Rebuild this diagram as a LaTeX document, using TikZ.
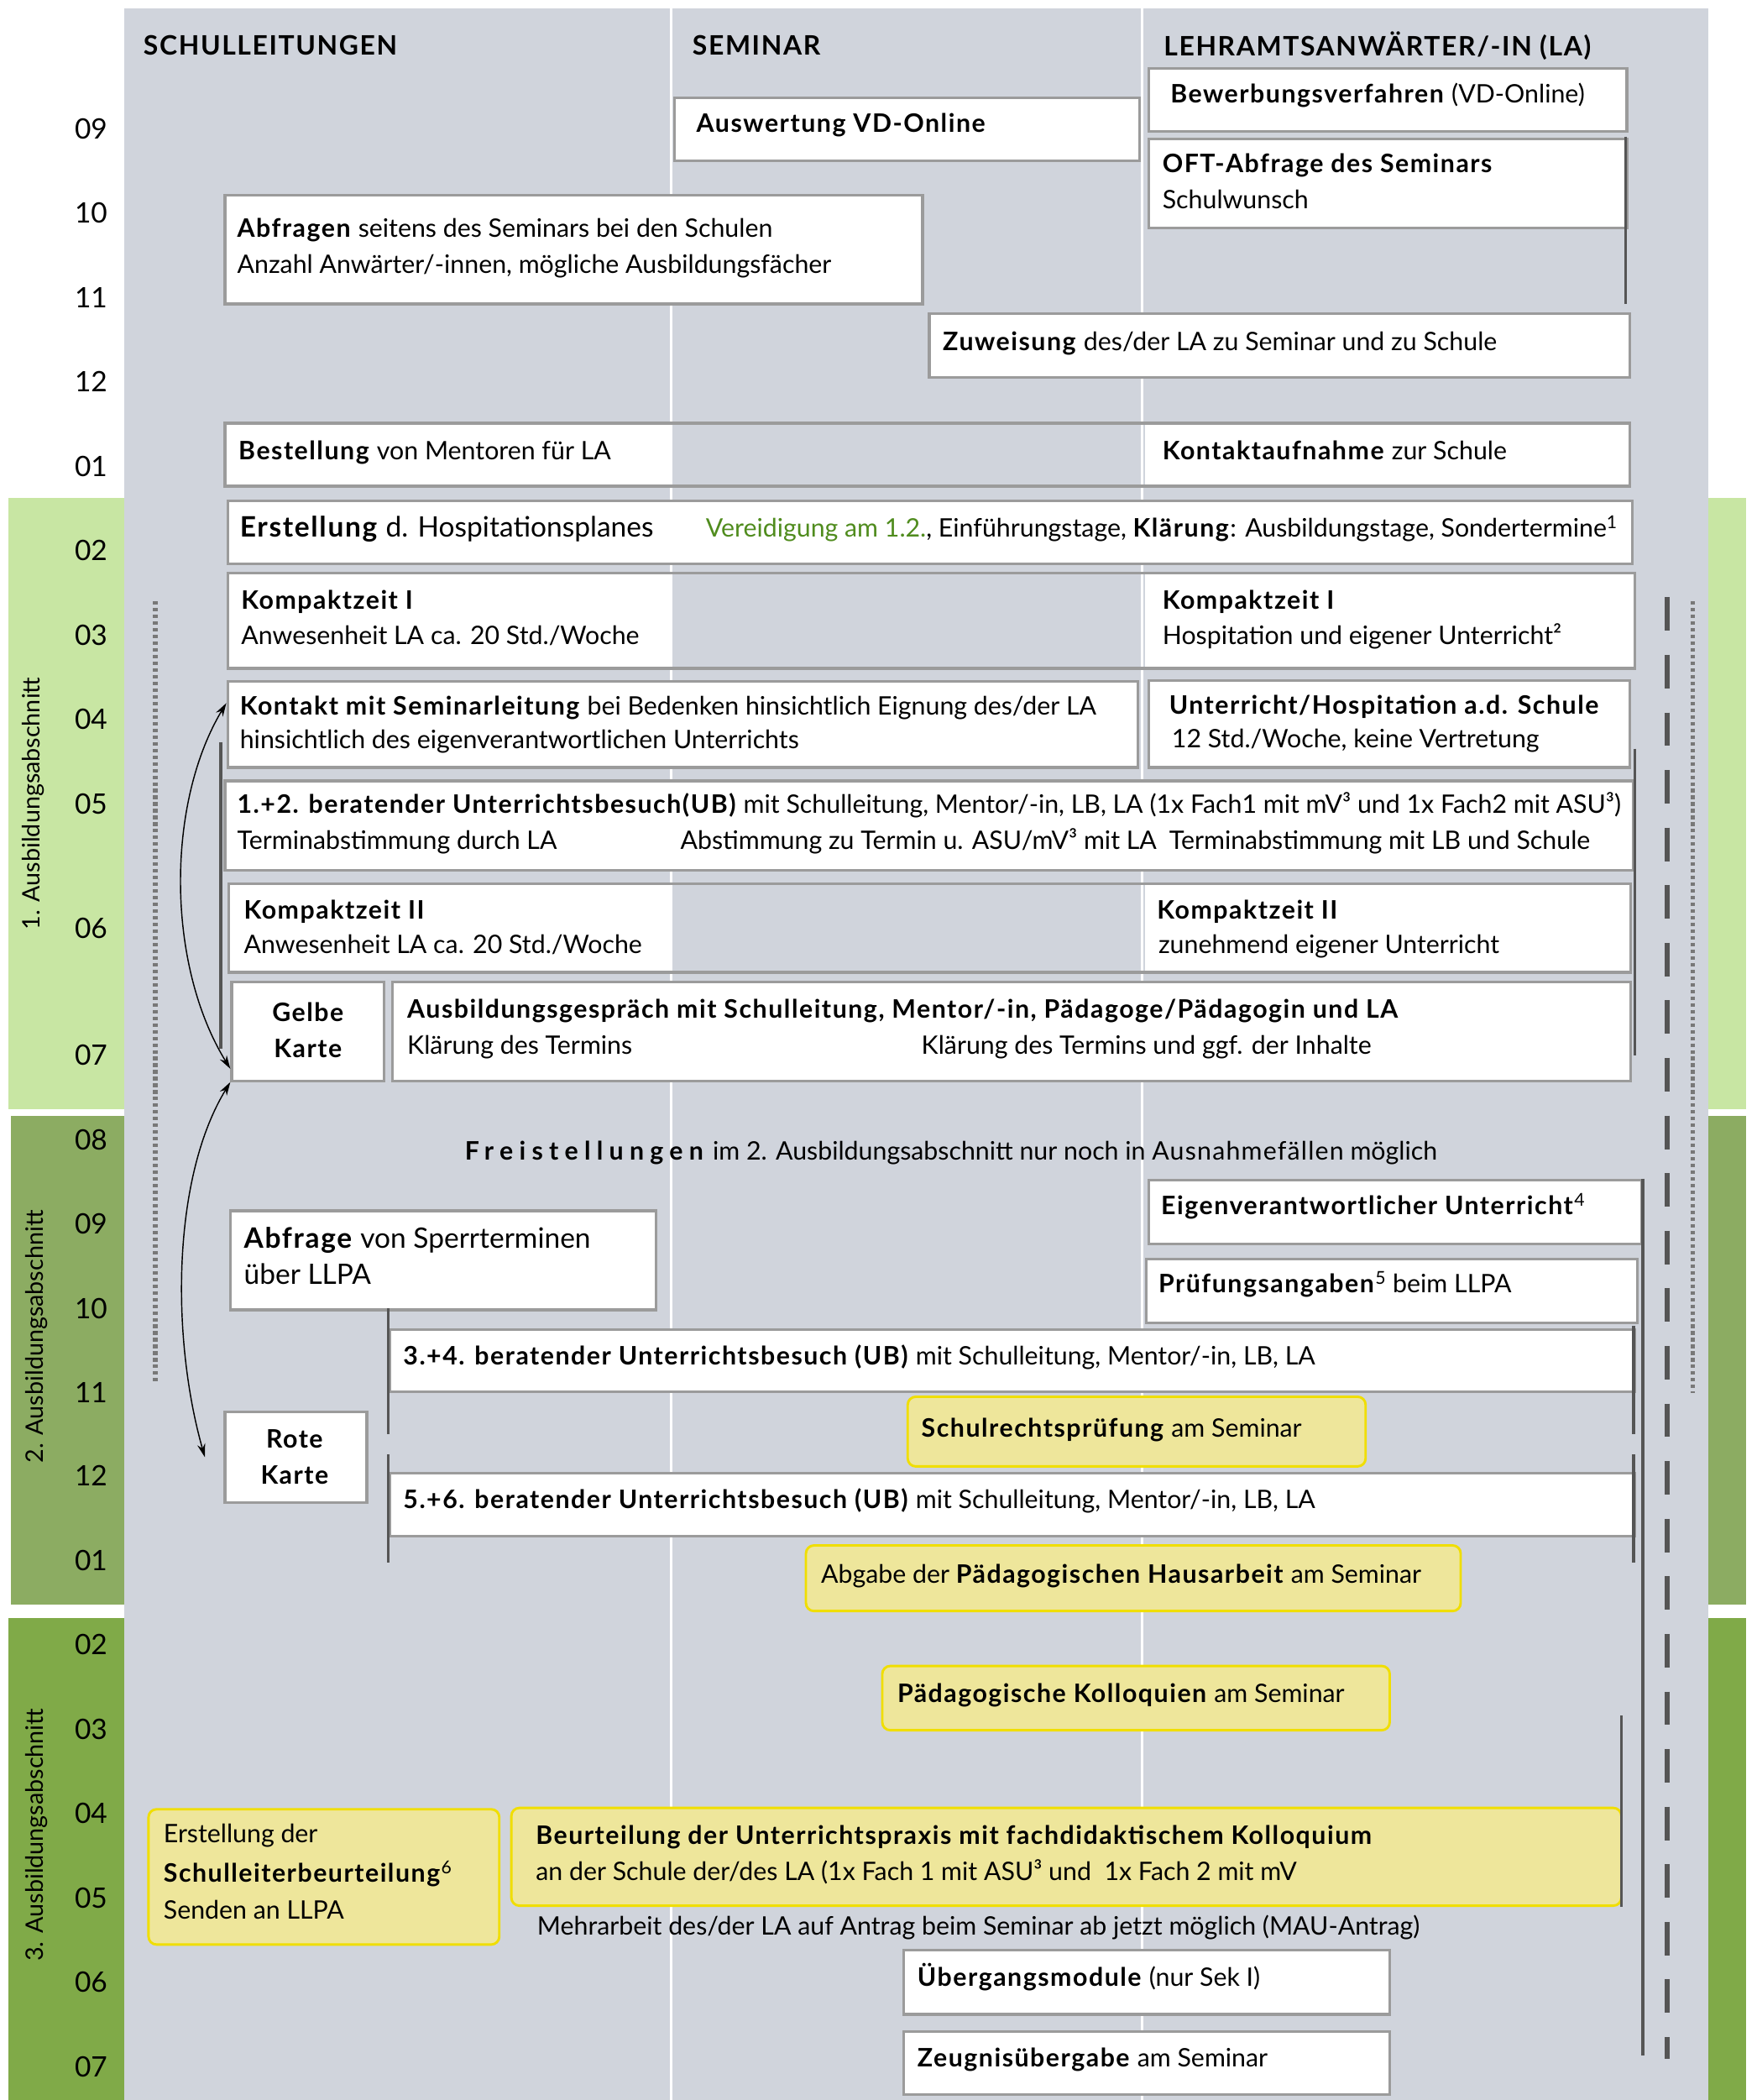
\documentclass[tikz,border=0pt]{standalone}
\usepackage{fontspec}
\setmainfont{Lato}[BoldFeatures={LetterSpace=5}]
\newfontfamily\widefont{Lato}
\newfontfamily\spacedfont{Lato}[LetterSpace=24]
\newfontfamily\lightspaced{Lato}[LetterSpace=4]
\usetikzlibrary{arrows.meta}

\definecolor{panel}{RGB}{208,212,220}
\definecolor{bordergray}{RGB}{155,155,155}
\definecolor{bandA}{RGB}{200,230,163}
\definecolor{bandB}{RGB}{140,172,98}
\definecolor{bandC}{RGB}{128,170,72}
\definecolor{yfill}{RGB}{238,230,155}
\definecolor{yborder}{RGB}{240,222,0}
\definecolor{darkline}{RGB}{85,85,85}
\definecolor{dotgray}{RGB}{120,120,120}
\definecolor{vgreen}{RGB}{80,140,30}

\newcommand\mkbox[6]{\node[#6, minimum width={#4-#2}, minimum height={#5-#3}] (#1) at (#2,#3) {};}

\tikzset{
  wbox/.style={draw=bordergray, line width=2pt, fill=white, inner sep=0pt, anchor=north west},
  framebox/.style={draw=bordergray, line width=2pt, inner sep=0pt, anchor=north west},
  ybox/.style={draw=yborder, line width=1.8pt, fill=yfill, rounded corners=6pt, inner sep=0pt, anchor=north west},
  txt/.style={anchor=west, inner sep=0pt, text height=14pt, text depth=4pt, font=\fontsize{19}{23}\selectfont},
  bigtxt/.style={txt, font=\fontsize{21}{25}\selectfont},
  head/.style={anchor=west, inner sep=0pt, font=\fontsize{20}{24}\selectfont\bfseries},
  month/.style={inner sep=0pt, font=\fontsize{21}{24}\selectfont},
  phase/.style={rotate=90, inner sep=0pt, font=\fontsize{18}{20}\selectfont\widefont},
  card/.style={align=center, inner sep=0pt, font=\fontsize{19}{27}\selectfont\bfseries},
  darkbar/.style={draw=darkline, line width=2.2pt},
  dotbar/.style={draw=dotgray, line width=3.2pt, dash pattern=on 2.6pt off 2.4pt},
  dashbar/.style={draw=darkline, line width=4pt, dash pattern=on 25pt off 18pt},
  arr/.style={draw=black, line width=0.9pt, {Stealth[length=10pt,width=6pt]}-{Stealth[length=10pt,width=6pt]}}
}

\begin{document}
\begin{tikzpicture}[x=1pt,y=-1pt]
\useasboundingbox (0,0) rectangle (1312,1568);
\fill[white] (0,0) rectangle (1312,1568);
% panel and bands
\fill[panel] (93,6) rectangle (1276,1568);
\fill[bandA] (6,372) rectangle (93,828);
\fill[bandA] (1276,372) rectangle (1304,828);
\fill[bandB] (8,833) rectangle (93,1198);
\fill[bandB] (1276,833) rectangle (1304,1198);
\fill[bandC] (6,1208) rectangle (93,1568);
\fill[bandC] (1276,1208) rectangle (1304,1568);
% column dividers
\draw[white, line width=2pt] (501,6) -- (501,1568);
\draw[white, line width=2pt] (853,6) -- (853,1568);

% phase labels
\node[phase] (ph1) at (25,600) {1. Ausbildungsabschnitt};
\node[phase] (ph2) at (27,998) {2. Ausbildungsabschnitt};
\node[phase] (ph3) at (27,1370) {3. Ausbildungsabschnitt};

% months
\foreach \m/\yy [count=\i] in {09/96,10/159,11/222,12/285,01/348,02/411,03/474,04/537,05/600,06/693,07/788,08/851,09/914,10/977,11/1040,12/1102,01/1165,02/1228,03/1291,04/1354,05/1417,06/1480,07/1543}
  \node[month] (mo\i) at (68,\yy) {\m};

% headers
\node[head] (h1) at (107,34) {SCHULLEITUNGEN};
\node[head] (h2) at (517,34) {SEMINAR};
\node[head] (h3) at (869,34) {LEHRAMTSANWÄRTER/-IN (LA)};

% guide lines
\draw[dotbar] (116,449) -- (116,1032);
\draw[dotbar] (1264,449) -- (1264,1040);
\draw[dashbar] (1245,446) -- (1245,1537);

% ---------- top boxes ----------
\mkbox{ausw}{503}{72}{850}{119}{wbox}
\node[txt] (ausw-t) at (520,94) {\textbf{Auswertung VD-Online}};

\mkbox{bewerb}{857}{50}{1214}{97}{wbox}
\node[txt] (bewerb-t) at (874,72) {\textbf{Bewerbungsverfahren} (VD-Online)};

\mkbox{oft}{857}{103}{1214}{169}{wbox}
\node[txt] (oft-t1) at (868,124) {\textbf{OFT-Abfrage des Seminars}};
\node[txt] (oft-t2) at (868,151) {Schulwunsch};

\mkbox{abfr}{167}{145}{688}{226}{wbox}
\node[txt] (abfr-t1) at (177,172) {\textbf{Abfragen} seitens des Seminars bei den Schulen};
\node[txt] (abfr-t2) at (177,199) {Anzahl Anwärter/-innen, mögliche Ausbildungsfächer};

\mkbox{zuw}{693}{233}{1216}{281}{wbox}
\node[txt] (zuw-t) at (704,257) {\textbf{Zuweisung} des/der LA zu Seminar und zu Schule};

% Bestellung / Kontaktaufnahme
\fill[white] (167,315) rectangle (501,362);
\fill[white] (855,315) rectangle (1216,362);
\mkbox{bestell}{167}{315}{1216}{362}{framebox}
\node[txt] (bestell-t) at (178,338) {\textbf{Bestellung} von Mentoren für LA};
\node[txt] (kontaktauf-t) at (868,338) {\textbf{Kontaktaufnahme} zur Schule};

% ---------- phase 1 ----------
\mkbox{erst}{169}{373}{1218}{420}{wbox}
\node[bigtxt] (erst-t1) at (179,396) {\textbf{Erstellung} d. Hospitationsplanes};
\node[txt] (erst-t2) at (527,396) {{\color{vgreen}Vereidigung am 1.2.}, Einführungstage, \textbf{Klärung}: Ausbildungstage, Sondertermine\textsuperscript{1}};

\fill[white] (169,427) rectangle (501,498);
\fill[white] (855,427) rectangle (1220,498);
\mkbox{kz1}{169}{427}{1220}{498}{framebox}
\node[txt] (kz1-l1) at (180,450) {\textbf{Kompaktzeit I}};
\node[txt] (kz1-l2) at (180,476) {Anwesenheit LA ca. 20 Std./Woche};
\node[txt] (kz1-r1) at (868,450) {\textbf{Kompaktzeit I}};
\node[txt] (kz1-r2) at (868,476) {Hospitation und eigener Unterricht²};

\mkbox{kontakt}{169}{508}{849}{572}{wbox}
\node[txt] (kontakt-t1) at (179,529) {\textbf{Kontakt mit Seminarleitung} bei Bedenken hinsichtlich Eignung des/der LA};
\node[txt] (kontakt-t2) at (179,554) {hinsichtlich des eigenverantwortlichen Unterrichts};

\mkbox{unterr}{857}{507}{1216}{572}{wbox}
\node[txt] (unterr-t1) at (873,528) {\textbf{Unterricht/Hospitation a.d. Schule}};
\node[txt] (unterr-t2) at (875,553) {12 Std./Woche, keine Vertretung};

\mkbox{ub12}{167}{582}{1219}{649}{wbox}
\node[txt] (ub12-t1) at (177,602) {\textbf{1.+2. beratender Unterrichtsbesuch(UB)} mit Schulleitung, Mentor/-in, LB, LA (1x Fach1 mit mV³ und 1x Fach2 mit ASU³)};
\node[txt] (ub12-a) at (177,629) {Terminabstimmung durch LA};
\node[txt] (ub12-b) at (508,629) {Abstimmung zu Termin u. ASU/mV³ mit LA};
\node[txt] (ub12-c) at (873,629) {Terminabstimmung mit LB und Schule};

\fill[white] (170,659) rectangle (501,725);
\fill[white] (855,659) rectangle (1217,725);
\mkbox{kz2}{170}{659}{1217}{725}{framebox}
\node[txt] (kz2-l1) at (182,681) {\textbf{Kompaktzeit II}};
\node[txt] (kz2-l2) at (182,707) {Anwesenheit LA ca. 20 Std./Woche};
\node[txt] (kz2-r1) at (864,681) {\textbf{Kompaktzeit II}};
\node[txt] (kz2-r2) at (865,707) {zunehmend eigener Unterricht};

\mkbox{gelbe}{172}{732}{286}{806}{wbox}
\node[card] (gelbe-t) at (230,769) {Gelbe\\Karte};

\mkbox{gespr}{292}{732}{1217}{806}{wbox}
\node[txt] (gespr-t1) at (304,755) {\textbf{Ausbildungsgespräch mit Schulleitung, Mentor/-in, Pädagoge/Pädagogin und LA}};
\node[txt] (gespr-a) at (304,782) {Klärung des Termins};
\node[txt] (gespr-b) at (688,782) {Klärung des Termins und ggf. der Inhalte};

\draw[darkbar] (165,554) -- (165,783);
\draw[darkbar] (1221,559) -- (1221,788);
\draw[darkbar] (1214,102) -- (1214,227);

% ---------- phase 2 ----------
\node[txt] (frei-t) at (347,861) {{\spacedfont\bfseries Freistellungen}\hspace{7pt}im 2. Ausbildungsabschnitt nur noch in {\lightspaced Ausnahmefällen} möglich};

\mkbox{eigen}{857}{880}{1225}{928}{wbox}
\node[txt] (eigen-t) at (867,902) {\textbf{Eigenverantwortlicher Unterricht}\textsuperscript{4}};

\mkbox{pruef}{855}{939}{1222}{987}{wbox}
\node[txt] (pruef-t) at (865,960) {\textbf{Prüfungsangaben}\textsuperscript{5} beim LLPA};

\mkbox{sperr}{171}{903}{489}{977}{wbox}
\node[bigtxt] (sperr-t1) at (182,927) {\textbf{Abfrage} von Sperrterminen};
\node[bigtxt] (sperr-t2) at (182,954) {über LLPA};

\mkbox{ub34}{290}{992}{1220}{1038}{wbox}
\node[txt] (ub34-t) at (301,1014) {\textbf{3.+4. beratender Unterrichtsbesuch (UB)} mit Schulleitung, Mentor/-in, LB, LA};

\mkbox{schulr}{677}{1042}{1019}{1094}{ybox}
\node[txt] (schulr-t) at (688,1068) {\textbf{Schulrechtsprüfung} am Seminar};

\mkbox{rote}{167}{1053}{273}{1121}{wbox}
\node[card] (rote-t) at (220,1088) {Rote\\Karte};

\mkbox{ub56}{290}{1099}{1220}{1146}{wbox}
\node[txt] (ub56-t) at (301,1121) {\textbf{5.+6. beratender Unterrichtsbesuch (UB)} mit Schulleitung, Mentor/-in, LB, LA};

\mkbox{hausarb}{601}{1153}{1090}{1202}{ybox}
\node[txt] (hausarb-t) at (613,1177) {Abgabe der \textbf{Pädagogischen Hausarbeit} am Seminar};

\draw[darkbar] (290,977) -- (290,1071);
\draw[darkbar] (290,1086) -- (290,1167);
\draw[darkbar] (1220,990) -- (1220,1071);
\draw[darkbar] (1220,1086) -- (1220,1167);
\draw[darkbar] (1227,880) -- (1227,1535);

% ---------- phase 3 ----------
\mkbox{kolloq}{658}{1243}{1037}{1291}{ybox}
\node[txt] (kolloq-t) at (670,1266) {\textbf{Pädagogische Kolloquien} am Seminar};

\mkbox{slb}{110}{1350}{372}{1451}{ybox}
\node[txt] (slb-t1) at (122,1371) {Erstellung der};
\node[txt] (slb-t2) at (122,1400) {\textbf{Schulleiterbeurteilung}\textsuperscript{6}};
\node[txt] (slb-t3) at (122,1428) {Senden an LLPA};

\mkbox{beurt}{381}{1349}{1210}{1422}{ybox}
\node[txt] (beurt-t1) at (400,1372) {\textbf{Beurteilung der Unterrichtspraxis mit fachdidaktischem Kolloquium}};
\node[txt] (beurt-t2) at (400,1399) {an der Schule der/des LA (1x Fach 1 mit ASU³ und \ 1x Fach 2 mit mV};

\node[txt] (mehr-t) at (401,1440) {Mehrarbeit des/der LA auf Antrag beim Seminar ab jetzt möglich (MAU-Antrag)};

\mkbox{uebg}{674}{1455}{1037}{1503}{wbox}
\node[txt] (uebg-t) at (685,1478) {\textbf{Übergangsmodule} (nur Sek I)};

\mkbox{zeug}{674}{1516}{1037}{1563}{wbox}
\node[txt] (zeug-t) at (685,1538) {\textbf{Zeugnisübergabe} am Seminar};

\draw[darkbar] (1211,1281) -- (1211,1424);

% ---------- curved arrows ----------
\coordinate (kA) at ([yshift=16pt]kontakt.west);
\coordinate (gA) at ([yshift=-28pt]gelbe.west);
\coordinate (rA) at ([xshift=-14pt]rote.west);
\draw[arr] (kA) .. controls (124,600) and (124,720) .. (gA);
\draw[arr] (gelbe.south west) .. controls (128,880) and (128,1000) .. (rA);
\end{tikzpicture}
\end{document}
